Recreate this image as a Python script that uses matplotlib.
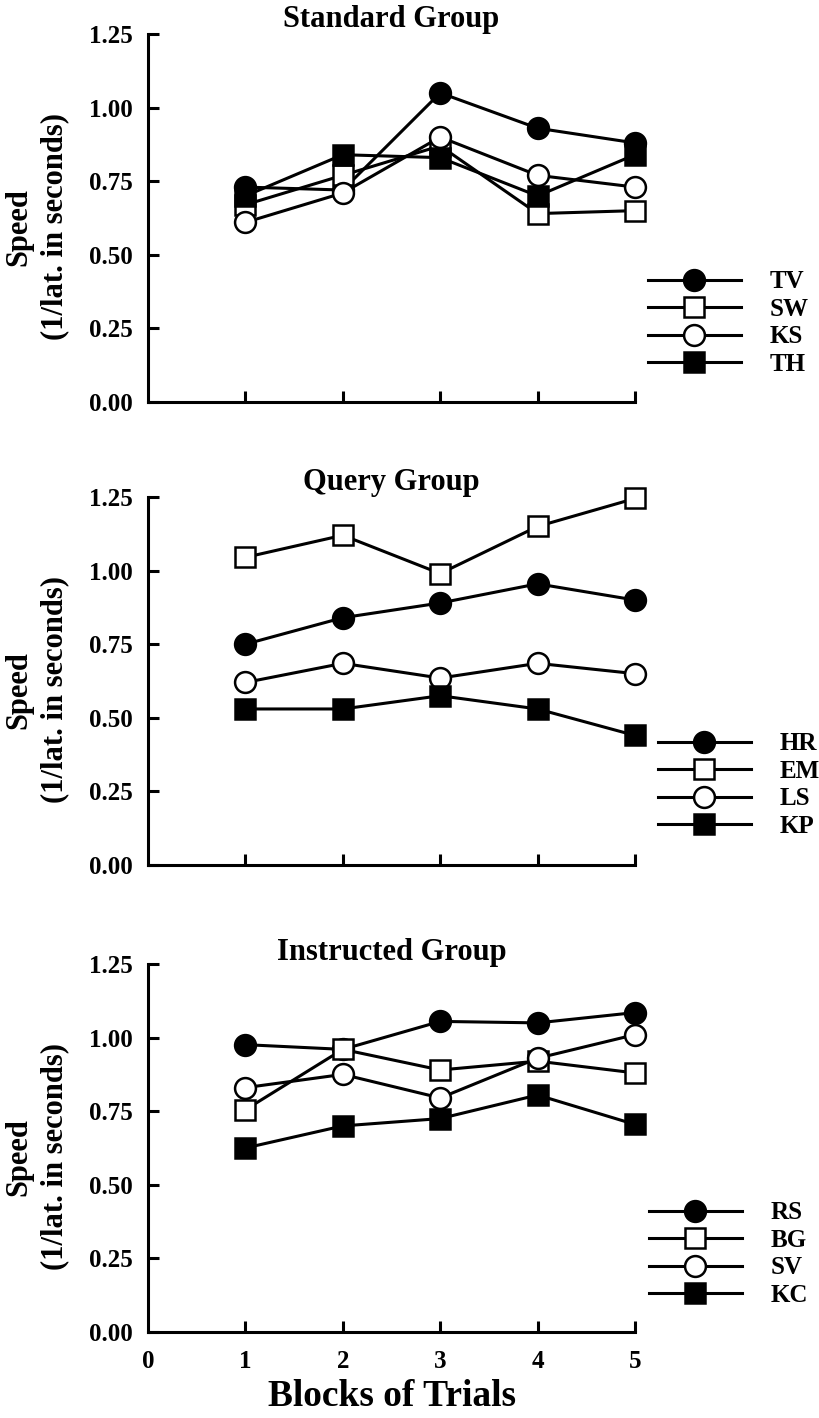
import numpy as np
import matplotlib
matplotlib.use("Agg")
import matplotlib.pyplot as plt

plt.rcParams['font.family'] = ['Liberation Serif', 'DejaVu Serif']
plt.rcParams['font.weight'] = 'bold'

# data
blocks = [1, 2, 3, 4, 5]

titles = ["Standard Group", "Query Group", "Instructed Group"]

# standard group
tv = [0.73, 0.72, 1.05, 0.93, 0.88]
sw = [0.67, 0.77, 0.87, 0.64, 0.65]
ks = [0.61, 0.71, 0.90, 0.77, 0.73]
th = [0.70, 0.84, 0.83, 0.70, 0.84]

# query group
hr = [0.75, 0.84, 0.89, 0.955, 0.90]
em = [1.045, 1.12, 0.99, 1.15, 1.245]
ls = [0.62, 0.685, 0.635, 0.685, 0.65]
kp = [0.53, 0.53, 0.575, 0.53, 0.44]

# instructed group
rs = [0.976, 0.96, 1.055, 1.05, 1.085]
bg = [0.755, 0.96, 0.89, 0.92, 0.88]
sv = [0.83, 0.875, 0.795, 0.93, 1.01]
kc = [0.625, 0.70, 0.725, 0.805, 0.705]

groups = [
    [("TV", tv), ("SW", sw), ("KS", ks), ("TH", th)],
    [("HR", hr), ("EM", em), ("LS", ls), ("KP", kp)],
    [("RS", rs), ("BG", bg), ("SV", sv), ("KC", kc)],
]

yticks = [0.0, 0.25, 0.5, 0.75, 1.0, 1.25]

# style per series slot: filled circle, open square, open circle, filled square
styles = [("o", "black"), ("s", "white"), ("o", "white"), ("s", "black")]
draw_order = [0, 1, 3, 2]

W, H = 819, 1418
fig = plt.figure(figsize=(W / 100, H / 100), dpi=100)

ax_left = 148 / W
ax_w = (635 - 148) / W
ax_h = 368 / H
bottoms = [402, 865, 1332]          # pixel y of axis zero line
legend_pos = [(648, 323), (658, 785), (649, 1254)]

lw = 2.2
for i, (title, series) in enumerate(zip(titles, groups)):
    ax = fig.add_axes([ax_left, 1 - bottoms[i] / H, ax_w, ax_h])
    handles = [None] * 4
    for k in draw_order:
        name, vals = series[k]
        mk, fc = styles[k]
        ms = 15 if mk == "o" else 14
        line, = ax.plot(blocks, vals, color="black", lw=lw, marker=mk,
                        markersize=ms, markerfacecolor=fc,
                        markeredgecolor="black", markeredgewidth=1.8,
                        clip_on=False, label=name, zorder=3 + k)
        handles[k] = line

    ax.set_xlim(0, 5)
    ax.set_ylim(0, 1.25)
    ax.set_xticks(blocks)
    ax.set_yticks(yticks)
    ax.set_yticklabels(["%.2f" % v for v in yticks])
    for s in ["top", "right"]:
        ax.spines[s].set_visible(False)
    for s in ["left", "bottom"]:
        ax.spines[s].set_linewidth(lw)
    ax.tick_params(direction="in", length=8, width=lw, labelsize=18)
    ax.tick_params(axis="y", pad=11)
    ax.tick_params(axis="x", pad=13)

    if i < 2:
        ax.set_xticklabels([])
    else:
        ax.set_xticks([0] + blocks)
        ax.set_xticklabels([str(v) for v in [0] + blocks])
        ax.xaxis.get_major_ticks()[0].tick1line.set_visible(False)
        ax.set_xlabel("Blocks of Trials", fontsize=27, fontweight="bold",
                      labelpad=4)

    ax.set_title(title, fontsize=22, fontweight="bold", pad=3)
    ax.set_ylabel("Speed\n(1/lat. in seconds)", fontsize=22,
                  fontweight="bold", linespacing=1.3, va="center")
    ax.yaxis.set_label_coords(-0.228, 0.476)

    lx, ly = legend_pos[i]
    ax.legend(handles=handles, loc="center left",
              bbox_to_anchor=(lx / W, 1 - ly / H),
              bbox_transform=fig.transFigure, frameon=False,
              borderpad=0, borderaxespad=0, handlelength=3.7,
              handletextpad=1.15, labelspacing=0.18, numpoints=1,
              prop={"size": 18, "weight": "bold"})

fig.savefig("out.png", dpi=100)
